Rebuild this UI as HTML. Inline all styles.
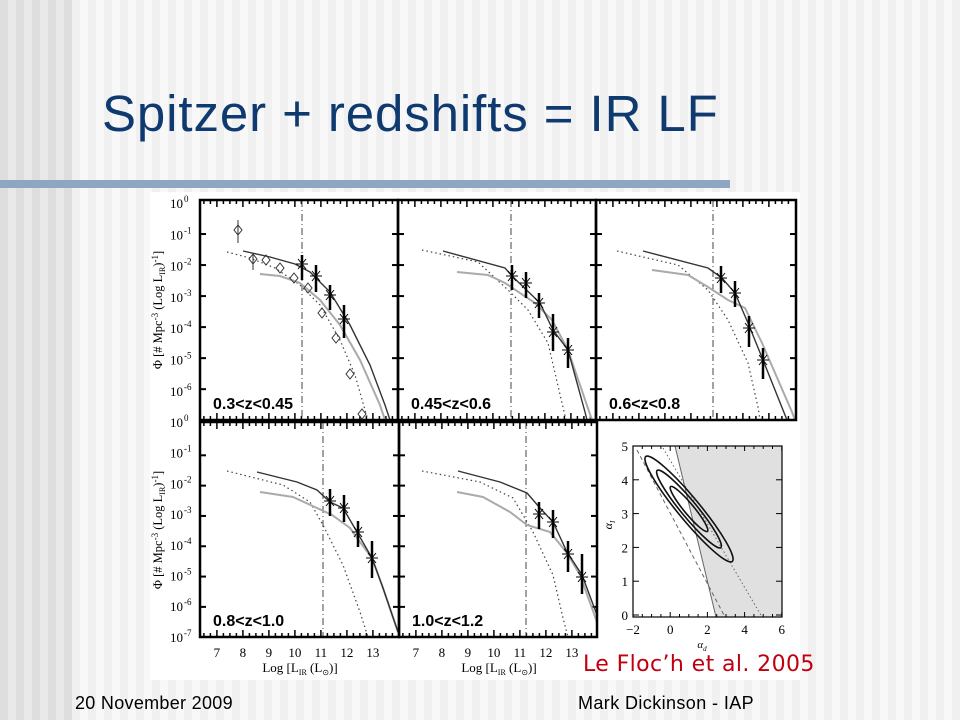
<!DOCTYPE html><html><head><meta charset="utf-8"><style>
body{margin:0;width:960px;height:720px;overflow:hidden;position:relative;font-family:"Liberation Sans",sans-serif;}
#bg{position:absolute;left:0;top:0;width:960px;height:720px;
background:repeating-linear-gradient(90deg,#dedede 0,#dedede 8px,#e9e9e9 8px,#e9e9e9 16px);}
#bg2{position:absolute;left:72px;top:0;width:888px;height:720px;
background:repeating-linear-gradient(90deg,#f0f0f0 0,#f0f0f0 8px,#f8f8f8 8px,#f8f8f8 16px);}
.t{position:absolute;white-space:nowrap}
</style></head><body>
<div id="bg"></div><div id="bg2"></div>
<div style="position:absolute;left:0;top:180px;width:730px;height:8px;background:#8ea6c2"></div>
<div class="t" style="left:102px;top:84px;font-size:51px;color:#0f3a70;letter-spacing:0.9px">Spitzer + redshifts = IR LF</div>
<div class="t" style="left:75px;top:693px;font-size:18px;color:#000;letter-spacing:0.3px">20 November 2009</div>
<div class="t" style="left:578px;top:693px;font-size:18px;color:#000;letter-spacing:0.4px">Mark Dickinson - IAP</div>
<div style="position:absolute;left:150px;top:192px;width:650px;height:488px;background:#fff"></div>
<svg id="s" width="960" height="720" style="position:absolute;left:0;top:0" font-family="Liberation Serif,serif"></svg>
<div class="t" style="left:583px;top:652px;font-size:22px;color:#c00010;font-family:'DejaVu Sans',sans-serif;letter-spacing:0.4px">Le Floc’h et al. 2005</div>
<script>
const s=document.getElementById('s');let h='';
function pl(p,st){return `<polyline fill="none" points="${p.map(q=>q.join(',')).join(' ')}" ${st}/>`}
const D='stroke="#333" stroke-width="1.4"',G='stroke="#aaa" stroke-width="2"',O='stroke="#444" stroke-width="1.2" stroke-dasharray="1.5,3"';
function star(x,y,a,b){return `<line x1="${x}" y1="${a}" x2="${x}" y2="${b}" stroke="#000" stroke-width="2.5"/><path d="M${x-6} ${y}h12M${x-4} ${y-5}l8 10M${x+4} ${y-5}l-8 10M${x} ${y-6}v12" stroke="#000" stroke-width="1"/>`}
function panel(x0,y0,x1,y1,opt){
 let w='';const dec=(y1-y0)/7;
 for(let v=6.5;v<14;v+=0.25){const x=x0+(v-6.35)*26;if(x>x1-1)break;const L=(Math.abs(v-Math.round(v))<.01)?7:4;
  w+=`<line x1="${x}" y1="${y0}" x2="${x}" y2="${y0+L}" stroke="#000" stroke-width="1.5"/><line x1="${x}" y1="${y1}" x2="${x}" y2="${y1-L}" stroke="#000" stroke-width="1.5"/>`}
 for(let i=1;i<7;i++){const y=y0+3+i*(dec-0.4);w+=`<line x1="${x0}" y1="${y}" x2="${x0+6}" y2="${y}" stroke="#000" stroke-width="2"/><line x1="${x1}" y1="${y}" x2="${x1-6}" y2="${y}" stroke="#000" stroke-width="2"/>`}
 w+=`<line x1="${opt.v}" y1="${y0}" x2="${opt.v}" y2="${y1}" stroke="#444" stroke-width="1" stroke-dasharray="7,3,1,3"/>`;
 w+=pl(opt.o,O)+pl(opt.g,G)+pl(opt.d,D);
 (opt.st||[]).forEach(a=>w+=star(...a));
 w+=`<text x="${x0+13}" y="${y1-11}" font-family="Liberation Sans,sans-serif" font-weight="bold" font-size="16">${opt.lab}</text>`;
 w+=`<rect x="${x0}" y="${y0}" width="${x1-x0}" height="${y1-y0}" fill="none" stroke="#000" stroke-width="2.5"/>`;
 return w;}
h+=panel(200,200,398,420,{v:302,lab:'0.3&lt;z&lt;0.45',
 d:[[243,251],[270,257],[295,264],[310,272],[330,292],[350,325],[370,365],[385,405],[390,420]],
 g:[[260,274],[280,276],[300,283],[320,300],[340,325],[360,360],[380,405],[385,420]],
 o:[[227,252],[250,258],[275,268],[300,285],[320,305],[340,340],[355,375],[365,410],[368,420]],
 st:[[302,264,255,280],[316,276,265,292],[330,295,285,310],[344,319,305,338]]});
[[238,230],[253,259],[266,260],[280,268],[294,278],[308,288],[322,313],[336,338],[350,374],[362,414]].forEach(([x,y])=>h+=`<path d="M${x} ${y-5}l4 5l-4 5l-4 -5z" fill="none" stroke="#333"/>`);
h+=`<line x1="238" y1="220" x2="238" y2="243" stroke="#333"/><line x1="253" y1="254" x2="253" y2="270" stroke="#333"/>`;
h+=panel(398,200,596,420,{v:511,lab:'0.45&lt;z&lt;0.6',
 d:[[443,251],[505,268],[512,276],[540,303],[553,330],[568,350],[585,412],[587,420]],
 g:[[457,272],[488,275],[505,283],[535,303],[552,320],[568,350],[592,420]],
 o:[[422,250],[478,262],[508,290],[528,310],[548,343],[562,403],[566,420]],
 st:[[512,276,265,290],[526,283,272,298],[539,303,293,318],[553,332,314,351],[568,350,338,368]]});
h+=panel(596,200,796,420,{v:713,lab:'0.6&lt;z&lt;0.8',
 d:[[643,251],[708,268],[722,278],[735,293],[748,323],[763,360],[787,420]],
 g:[[652,270],[688,275],[708,287],[728,300],[745,308],[762,343],[792,412],[795,420]],
 o:[[617,251],[678,265],[708,290],[728,320],[748,363],[758,407],[760,420]],
 st:[[721,278,266,293],[735,293,281,307],[749,328,316,347],[763,360,348,379]]});
h+=panel(200,422,399,637,{v:323,lab:'0.8&lt;z&lt;1.0',
 d:[[257,472],[297,482],[317,490],[330,502],[343,508],[357,532],[372,558],[383,588],[398,632]],
 g:[[260,492],[293,497],[317,508],[332,515],[350,528],[360,542],[372,558],[383,588],[398,632]],
 o:[[227,471],[283,485],[310,502],[323,525],[343,565],[360,612],[368,637]],
 st:[[330,501,489,516],[344,508,495,522],[358,532,521,547],[372,558,541,578]]});
h+=panel(399,422,597,637,{v:526,lab:'1.0&lt;z&lt;1.2',
 d:[[458,471],[500,482],[527,493],[540,508],[553,522],[567,552],[582,575],[597,615]],
 g:[[457,492],[483,497],[510,512],[527,525],[550,532],[567,553],[580,575],[597,622]],
 o:[[422,471],[480,482],[513,498],[533,532],[553,575],[563,618],[568,637]],
 st:[[539,514,502,529],[553,522,510,538],[568,554,541,572],[582,577,554,594]]});
const sup=['0','-1','-2','-3','-4','-5','-6','-7'];
for(let i=0;i<7;i++){const y=203+i*31.3;h+=`<text x="183" y="${y+5}" font-size="13" text-anchor="end">10</text><text x="184" y="${y-1}" font-size="9">${sup[i]}</text>`}
for(let i=0;i<8;i++){const y=422+i*30.7;h+=`<text x="183" y="${y+5}" font-size="13" text-anchor="end">10</text><text x="184" y="${y-1}" font-size="9">${sup[i]}</text>`}
[310,530].forEach(cy=>h+=`<text transform="translate(162,${cy}) rotate(-90)" text-anchor="middle" font-size="12.5">Φ [# Mpc<tspan font-size="9" dy="-4">-3</tspan><tspan dy="4"> (Log L</tspan><tspan font-size="8" dy="3">IR</tspan><tspan dy="-3">)</tspan><tspan font-size="9" dy="-4">-1</tspan><tspan dy="4">]</tspan></text>`);
[200,399].forEach(x0=>{for(let v=7;v<=13;v++)h+=`<text x="${x0+(v-6.35)*26}" y="657" font-size="13" text-anchor="middle">${v}</text>`;
 h+=`<text x="${x0+100}" y="672" font-size="13" text-anchor="middle">Log [L<tspan font-size="8" dy="3">IR</tspan><tspan dy="-3"> (L</tspan><tspan font-size="8" dy="3">⊙</tspan><tspan dy="-3">)]</tspan></text>`});
const ax=a=>633+18.6*(a+2),ay=a=>615-33.8*a;
h+=`<polygon points="675,446 782,446 782,617 716,617" fill="#e0e0e0"/><line x1="675" y1="446" x2="716" y2="617" stroke="#666"/>`;
h+=`<line x1="637" y1="450" x2="725" y2="617" stroke="#666" stroke-dasharray="4,3"/><line x1="663" y1="448" x2="762" y2="617" stroke="#666" stroke-dasharray="1.5,2.5"/>`;
[[68,11],[50,8],[29,5]].forEach(([a,b])=>h+=`<ellipse cx="689" cy="509" rx="${a}" ry="${b}" transform="rotate(50.5 689 509)" fill="none" stroke="#111" stroke-width="1.6"/>`);
h+=`<rect x="633" y="446" width="149" height="171" fill="none" stroke="#000" stroke-width="1.2"/>`;
for(let a=-2;a<=6;a+=2)h+=`<text x="${ax(a)}" y="634" font-size="13" text-anchor="middle">${a<0?'−2':a}</text>`;
for(let a=-2;a<=6;a+=0.5){h+=`<line x1="${ax(a)}" y1="617" x2="${ax(a)}" y2="${617-(a%2==0?5:3)}" stroke="#000"/><line x1="${ax(a)}" y1="446" x2="${ax(a)}" y2="${446+(a%2==0?5:3)}" stroke="#000"/>`}
for(let a=0;a<=5;a++){h+=`<text x="628" y="${ay(a)+5}" font-size="13" text-anchor="end">${a}</text><line x1="633" y1="${ay(a)}" x2="639" y2="${ay(a)}" stroke="#000"/><line x1="782" y1="${ay(a)}" x2="776" y2="${ay(a)}" stroke="#000"/>`}
h+=`<text x="702" y="648" font-size="11" text-anchor="middle" font-style="italic">α<tspan font-size="7" dy="3">d</tspan></text>`;
h+=`<text transform="translate(612,525) rotate(-90)" font-size="12" text-anchor="middle" font-style="italic">α<tspan font-size="7" dy="3">I</tspan></text>`;
s.innerHTML=h;
</script></body></html>
